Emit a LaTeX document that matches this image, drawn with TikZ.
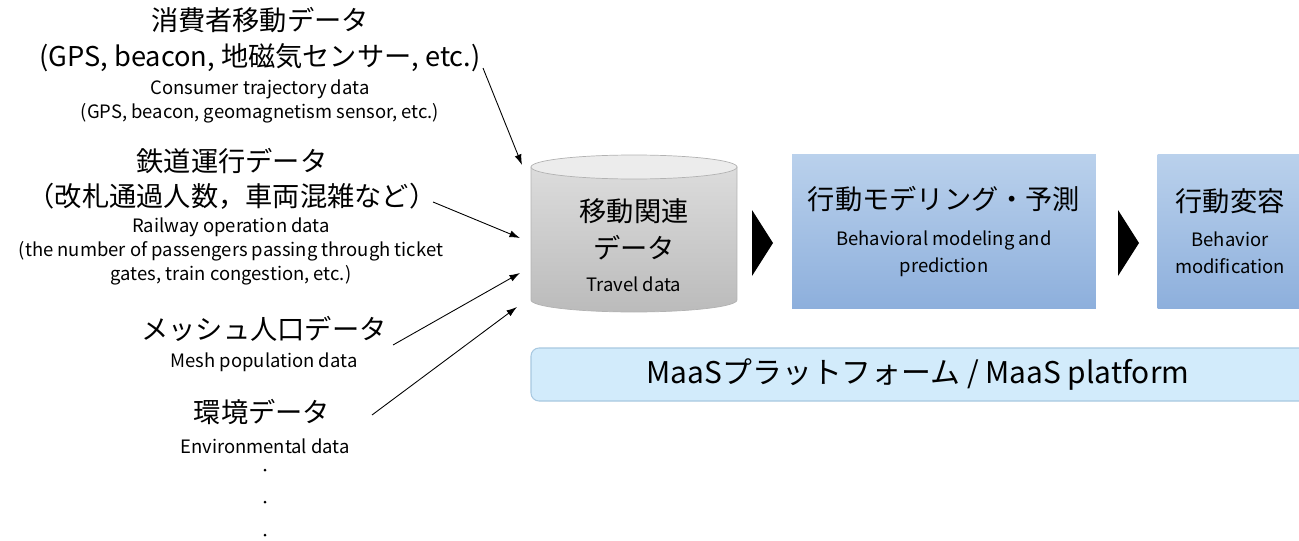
\documentclass[tikz,border=0pt]{standalone}
\usepackage{fontspec}
\setmainfont{Noto Sans CJK JP}
\usetikzlibrary{arrows.meta}

\newcommand{\jpfont}{\fontsize{15.5pt}{20pt}\selectfont}
\newcommand{\enfont}{\fontsize{10.5pt}{13.4pt}\selectfont}
\newcommand{\boxenfont}{\fontsize{10.5pt}{15.4pt}\selectfont}
\definecolor{boxtop}{HTML}{BAD1EC}
\definecolor{boxbot}{HTML}{8DAFDC}
\definecolor{cyltop}{HTML}{DCDCDC}
\definecolor{cylbot}{HTML}{BBBBBB}
\definecolor{platfill}{HTML}{D2EBFB}
\definecolor{platline}{HTML}{A8C8E0}

\begin{document}
\begin{tikzpicture}[x=0.02cm, y=-0.02cm,
    jp/.style={font=\jpfont, align=center, inner sep=0pt},
    en/.style={font=\enfont, align=center, inner sep=0pt},
    feed/.style={-{Latex[length=6pt,width=4pt]}, line width=0.5pt},
    bluebox/.style={top color=boxtop, bottom color=boxbot, align=center,
        inner sep=0pt, font=\boxenfont, minimum height=3.1cm}]
    \path[use as bounding box, clip] (0,0) rectangle (1299,541);

    % input data
    \node[jp] (consjp) at (260,39.5) {消費者移動データ\\(GPS, beacon, 地磁気センサー, etc.)};
    \node[en] (consen) at (260,101.5) {Consumer trajectory data\\(GPS, beacon, geomagnetism sensor, etc.)};
    \node[jp] (railjp) at (232,178.5) {鉄道運行データ\\（改札通過人数，車両混雑など）};
    \node[en] (railen) at (231,251.5) {Railway operation data\\(the number of passengers passing through ticket\\gates, train congestion, etc.)};
    \node[jp] (meshjp) at (264,329) {メッシュ人口データ};
    \node[en] (meshen) at (264,362) {Mesh population data};
    \node[jp] (envjp) at (262,412) {環境データ};
    \node[en] (enven) at (265,446) {Environmental data};
    \foreach \y in {470,502,535}
        \fill (265,\y) circle (1.5);

    % travel data cylinder
    \shade[top color=cyltop, bottom color=cylbot, draw=gray!60, line width=0.4pt]
        (531,167) -- (531,300)
        arc[start angle=180, end angle=360, x radius=2.06cm, y radius=0.24cm]
        -- (737,167) -- cycle;
    \draw[fill=gray!15, draw=gray!60, line width=0.4pt] (634,167) ellipse [x radius=2.06cm, y radius=0.24cm];
    \node[align=center, inner sep=0pt, font=\boxenfont] (travel) at (634,245)
        {{\jpfont 移動関連}\\[6pt]{\jpfont データ}\\[3pt]Travel data};

    \coordinate (c1) at (483,68);
    \coordinate (c2) at (433,202);
    \coordinate (c3) at (393,345);
    \coordinate (c4) at (372,415);
    \coordinate (t1) at (522,165);
    \coordinate (t2) at (520,238);
    \coordinate (t3) at (520,273);
    \coordinate (t4) at (517,307);
    \draw[feed] (c1) -- (t1);
    \draw[feed] (c2) -- (t2);
    \draw[feed] (c3) -- (t3);
    \draw[feed] (c4) -- (t4);

    % flow
    \fill (752,210) -- (773,243) -- (752,276) -- cycle;
    \node[bluebox, minimum width=6.08cm] (model) at (944,231.5)
        {{\jpfont 行動モデリング・予測}\\[4.6pt]Behavioral modeling and\\prediction};
    \fill (1118,210) -- (1139,243) -- (1118,276) -- cycle;
    \node[bluebox, minimum width=2.9cm] (change) at (1230,231.5)
        {{\jpfont 行動変容}\\[4.6pt]Behavior\\modification};

    % platform
    \draw[fill=platfill, draw=platline, line width=0.6pt, rounded corners=0.16cm]
        (531,348) rectangle (1320,401);
    \node[font=\fontsize{17pt}{20pt}\selectfont, inner sep=0pt] (maas) at (918,375)
        {MaaSプラットフォーム / MaaS platform};
\end{tikzpicture}
\end{document}
